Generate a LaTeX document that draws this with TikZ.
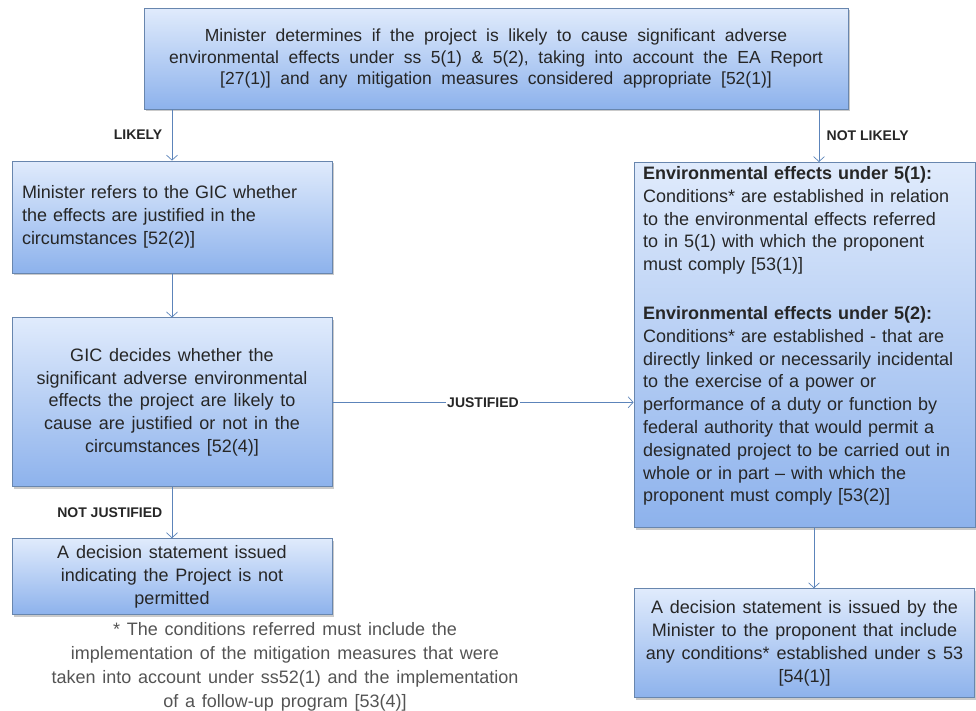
\documentclass[tikz,border=0pt]{standalone}
\usepackage{fontspec}
\setmainfont{Liberation Sans}
\usetikzlibrary{positioning,calc,shadows,arrows.meta}

\definecolor{boxtop}{RGB}{224,235,252}
\definecolor{boxbot}{RGB}{141,178,236}
\definecolor{boxline}{RGB}{104,134,174}
\definecolor{flowline}{RGB}{92,132,186}
\definecolor{bodytext}{RGB}{38,38,38}
\definecolor{notetext}{RGB}{84,84,84}

\newcommand\bodywords{\spaceskip 6.8pt plus 1pt minus 0.5pt\relax}
\newcommand\widewords{\spaceskip 9.6pt plus 1pt minus 1pt\relax}

\tikzset{
  stepbox/.style={draw=boxline, line width=0.8pt, top color=boxtop, bottom color=boxbot,
    text=bodytext, inner xsep=9pt, inner ysep=4pt,
    drop shadow={shadow xshift=1.5pt, shadow yshift=-2pt, opacity=0.35, fill=black!60},
    font=\fontsize{18}{22.8}\selectfont\bodywords},
  flow/.style={draw=flowline, line width=0.7pt, -{Straight Barb[length=5pt,width=11pt]}},
  branch/.style={font=\fontsize{14}{16}\selectfont\bfseries, text=bodytext},
}

\begin{document}
\begin{tikzpicture}[x=1pt,y=-1pt]
    \useasboundingbox (0,0) rectangle (976,710);

    % decision at the top
    \node [stepbox, minimum width=704pt, minimum height=101pt, align=center,
           font=\fontsize{17.5}{21.5}\selectfont\widewords] (det) at (496,58.5)
          {Minister determines if the project is likely to cause significant adverse\\
           environmental effects under ss 5(1) \& 5(2), taking into account the EA Report\\
           {[27(1)]} and any mitigation measures considered appropriate {[52(1)]}\rule[-3pt]{0pt}{0pt}};

    % left column
    \node [stepbox, minimum width=320pt, minimum height=112pt, text width=300pt, align=left] (refer) at (172,217)
          {Minister refers to the GIC whether\\
           the effects are justified in the\\
           circumstances {[52(2)]}};
    \node [stepbox, minimum width=320pt, minimum height=169pt, align=center, below=44pt of refer] (gic)
          {GIC decides whether the\\
           significant adverse environmental\\
           effects the project are likely to\\
           cause are justified or not in the\\
           circumstances {[52(4)]}};
    \node [stepbox, minimum width=320pt, minimum height=76pt, align=center, below=51pt of gic] (notperm)
          {A decision statement issued\\
           indicating the Project is not\\
           permitted};

    % right column
    \node [stepbox, anchor=north, text width=323pt, align=left] (cond) at (804.5,162)
          {\textbf{Environmental effects under 5(1):}\\
           Conditions* are established in relation\\
           to the environmental effects referred\\
           to in 5(1) with which the proponent\\
           must comply {[53(1)]}\\[26pt]
           \textbf{Environmental effects under 5(2):}\\
           Conditions* are established - that are\\
           directly linked or necessarily incidental\\
           to the exercise of a power or\\
           performance of a duty or function by\\
           federal authority that would permit a\\
           designated project to be carried out in\\
           whole or in part -- with which the\\
           proponent must comply {[53(2)]}\rule[-22pt]{0pt}{0pt}};
    \node [stepbox, minimum width=340pt, minimum height=109pt, align=center, below=60pt of cond] (stmt)
          {A decision statement is issued by the\\
           Minister to the proponent that include\\
           any conditions* established under s 53\\
           {[54(1)]}};

    % footnote
    \node [align=center, text=notetext, font=\fontsize{18}{23.8}\selectfont\bodywords] (note) at (285,667)
          {* The conditions referred must include the\\
           implementation of the mitigation measures that were\\
           taken into account under ss52(1) and the implementation\\
           of a follow-up program {[53(4)]}};

    % connectors
    \coordinate (nl) at (819,0);
    \coordinate (cs) at (814,0);
    \draw [flow] (det.south -| refer.north) -- node [branch, left=6pt] {LIKELY} (refer.north);
    \draw [flow] (det.south -| nl) -- node [branch, right=4pt] {NOT LIKELY} (cond.north -| nl);
    \draw [flow] (refer.south) -- (gic.north);
    \draw [flow] (gic.east) -- node [branch, fill=white, inner sep=1pt] {JUSTIFIED} (gic.east -| cond.west);
    \draw [flow] (gic.south) -- node [branch, left=6pt] {NOT JUSTIFIED} (notperm.north);
    \draw [flow] (cond.south -| cs) -- (stmt.north -| cs);
\end{tikzpicture}
\end{document}
